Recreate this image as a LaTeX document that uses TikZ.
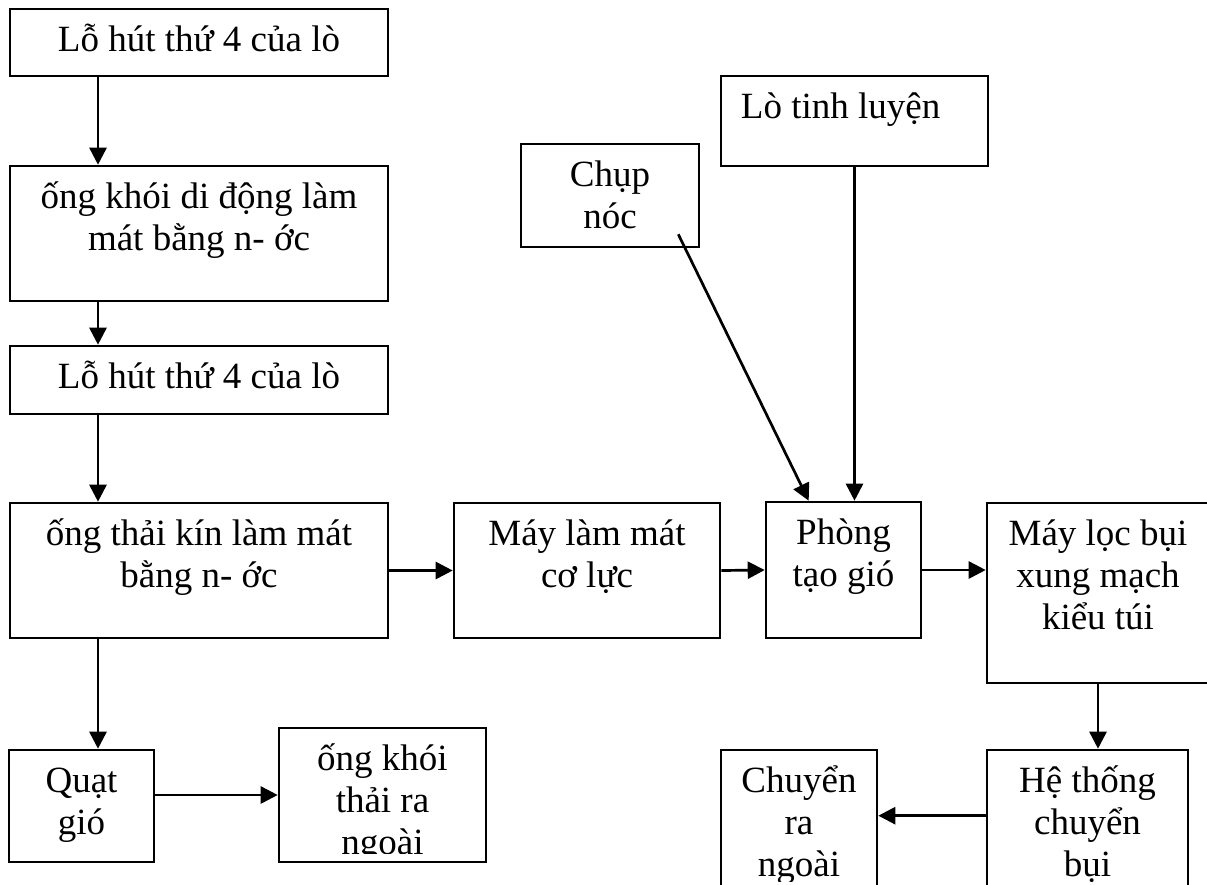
\documentclass[tikz,border=0pt]{standalone}
\usepackage{fontspec}
\setmainfont{Liberation Serif}
\usetikzlibrary{arrows.meta,fit}
\tikzset{
  box/.style={draw, line width=2.6pt, inner sep=0pt},
  lbl/.style={font=\fontsize{37}{42}\selectfont, inner sep=0pt, align=center, anchor=north},
  flow/.style={line width=2.7pt, -{Triangle[length=17pt,width=17pt]}},
}
% fixes the height of a label's first line, so its baseline sits 44pt below the box top
\newcommand{\topstrut}{\rule{0pt}{44pt}}

\begin{document}
\begin{tikzpicture}[x=1pt,y=-1pt]
\useasboundingbox (0,0) rectangle (1207,884);
\clip (0,0) rectangle (1207,884);

% ---- boxes ----
\node[box, fit={(10,9) (388,76)}]     (b1) {};
\node[box, fit={(10,166) (388,301)}]  (b2) {};
\node[box, fit={(10,346) (388,414)}]  (b3) {};
\node[box, fit={(10,503) (388,638)}]  (b4) {};
\node[box, fit={(9,750) (154,862)}]   (quat) {};
\node[box, fit={(279,728) (486,862)}] (ok) {};
\node[box, fit={(454,503) (720,638)}] (may) {};
\node[box, fit={(766,502) (921,638)}] (phong) {};
\node[box, fit={(987,503) (1209,683)}] (mloc) {};
\node[box, fit={(987,750) (1188,900)}] (het) {};
\node[box, fit={(721,750) (877,900)}] (chuyen) {};
\node[box, fit={(521,144) (699,247)}] (chup) {};
\node[box, fit={(721,76) (988,166)}]  (lo) {};

% ---- labels ----
\node[lbl] (t1) at (b1.north) {\topstrut Lỗ hút thứ 4 của lò};
\node[lbl] (t2) at (b2.north) {\topstrut ống khói di động làm\\mát bằng n- ớc};
\node[lbl] (t3) at (b3.north) {\topstrut Lỗ hút thứ 4 của lò};
\node[lbl] (t4) at (b4.north) {\topstrut ống thải kín làm mát\\bằng n- ớc};
\node[lbl] (t5) at (may.north) {\topstrut Máy làm mát\\cơ lực};
\node[lbl] (t6) at (phong.north) {\topstrut Phòng\\tạo gió};
\node[lbl] (t7) at (mloc.north) {\topstrut Máy lọc bụi\\xung mạch\\kiểu túi};
\node[lbl] (t8) at (quat.north) {\topstrut Quạt\\gió};
\node[lbl] (t10) at (chup.north) {\topstrut Chụp\\nóc};
\node[lbl, anchor=north west] (t11) at ([xshift=21pt]lo.north west) {\topstrut Lò tinh luyện};
\begin{scope}
  \clip (ok.north west) rectangle ([yshift=10pt]ok.south east);
  \node[lbl] (t9) at (ok.north) {\topstrut ống khói\\thải ra\\ngoài};
\end{scope}
\begin{scope}
  \clip (het.north west) rectangle ([yshift=20pt]het.south east);
  \node[lbl] (t12) at (het.north) {\topstrut Hệ thống\\chuyển\\bụi};
\end{scope}
\begin{scope}
  \clip (chuyen.north west) rectangle ([yshift=20pt]chuyen.south east);
  \node[lbl] (t13) at (chuyen.north) {\topstrut Chuyển\\ra\\ngoài};
\end{scope}

% ---- connectors ----
\coordinate (lx) at (98,0);
\draw[flow] (b1.south -| lx) -- (b2.north -| lx);
\draw[flow] (b2.south -| lx) -- (b3.north -| lx);
\draw[flow] (b3.south -| lx) -- (b4.north -| lx);
\draw[flow] (b4.south -| lx) -- (quat.north -| lx);
\draw[flow] (quat.east |- ok.west) -- (ok.west);
\draw[flow] (b4.east) -- (may.west);
\draw[flow] (may.east) -- (phong.west);
\draw[flow] (phong.east) -- (phong.east -| mloc.west);
\draw[flow] (mloc.south) -- (mloc.south |- het.north);
\coordinate (hy) at ([yshift=-67pt]het.north west);
\draw[flow] (hy) -- (hy -| chuyen.east);
\coordinate (cs) at ([shift={(-22,-14)}]chup.south east);
\coordinate (ce) at ([xshift=44pt]phong.north west);
\draw[flow] (cs) -- (ce);
\draw[flow] (lo.south) -- (lo.south |- phong.north);
\end{tikzpicture}
\end{document}
